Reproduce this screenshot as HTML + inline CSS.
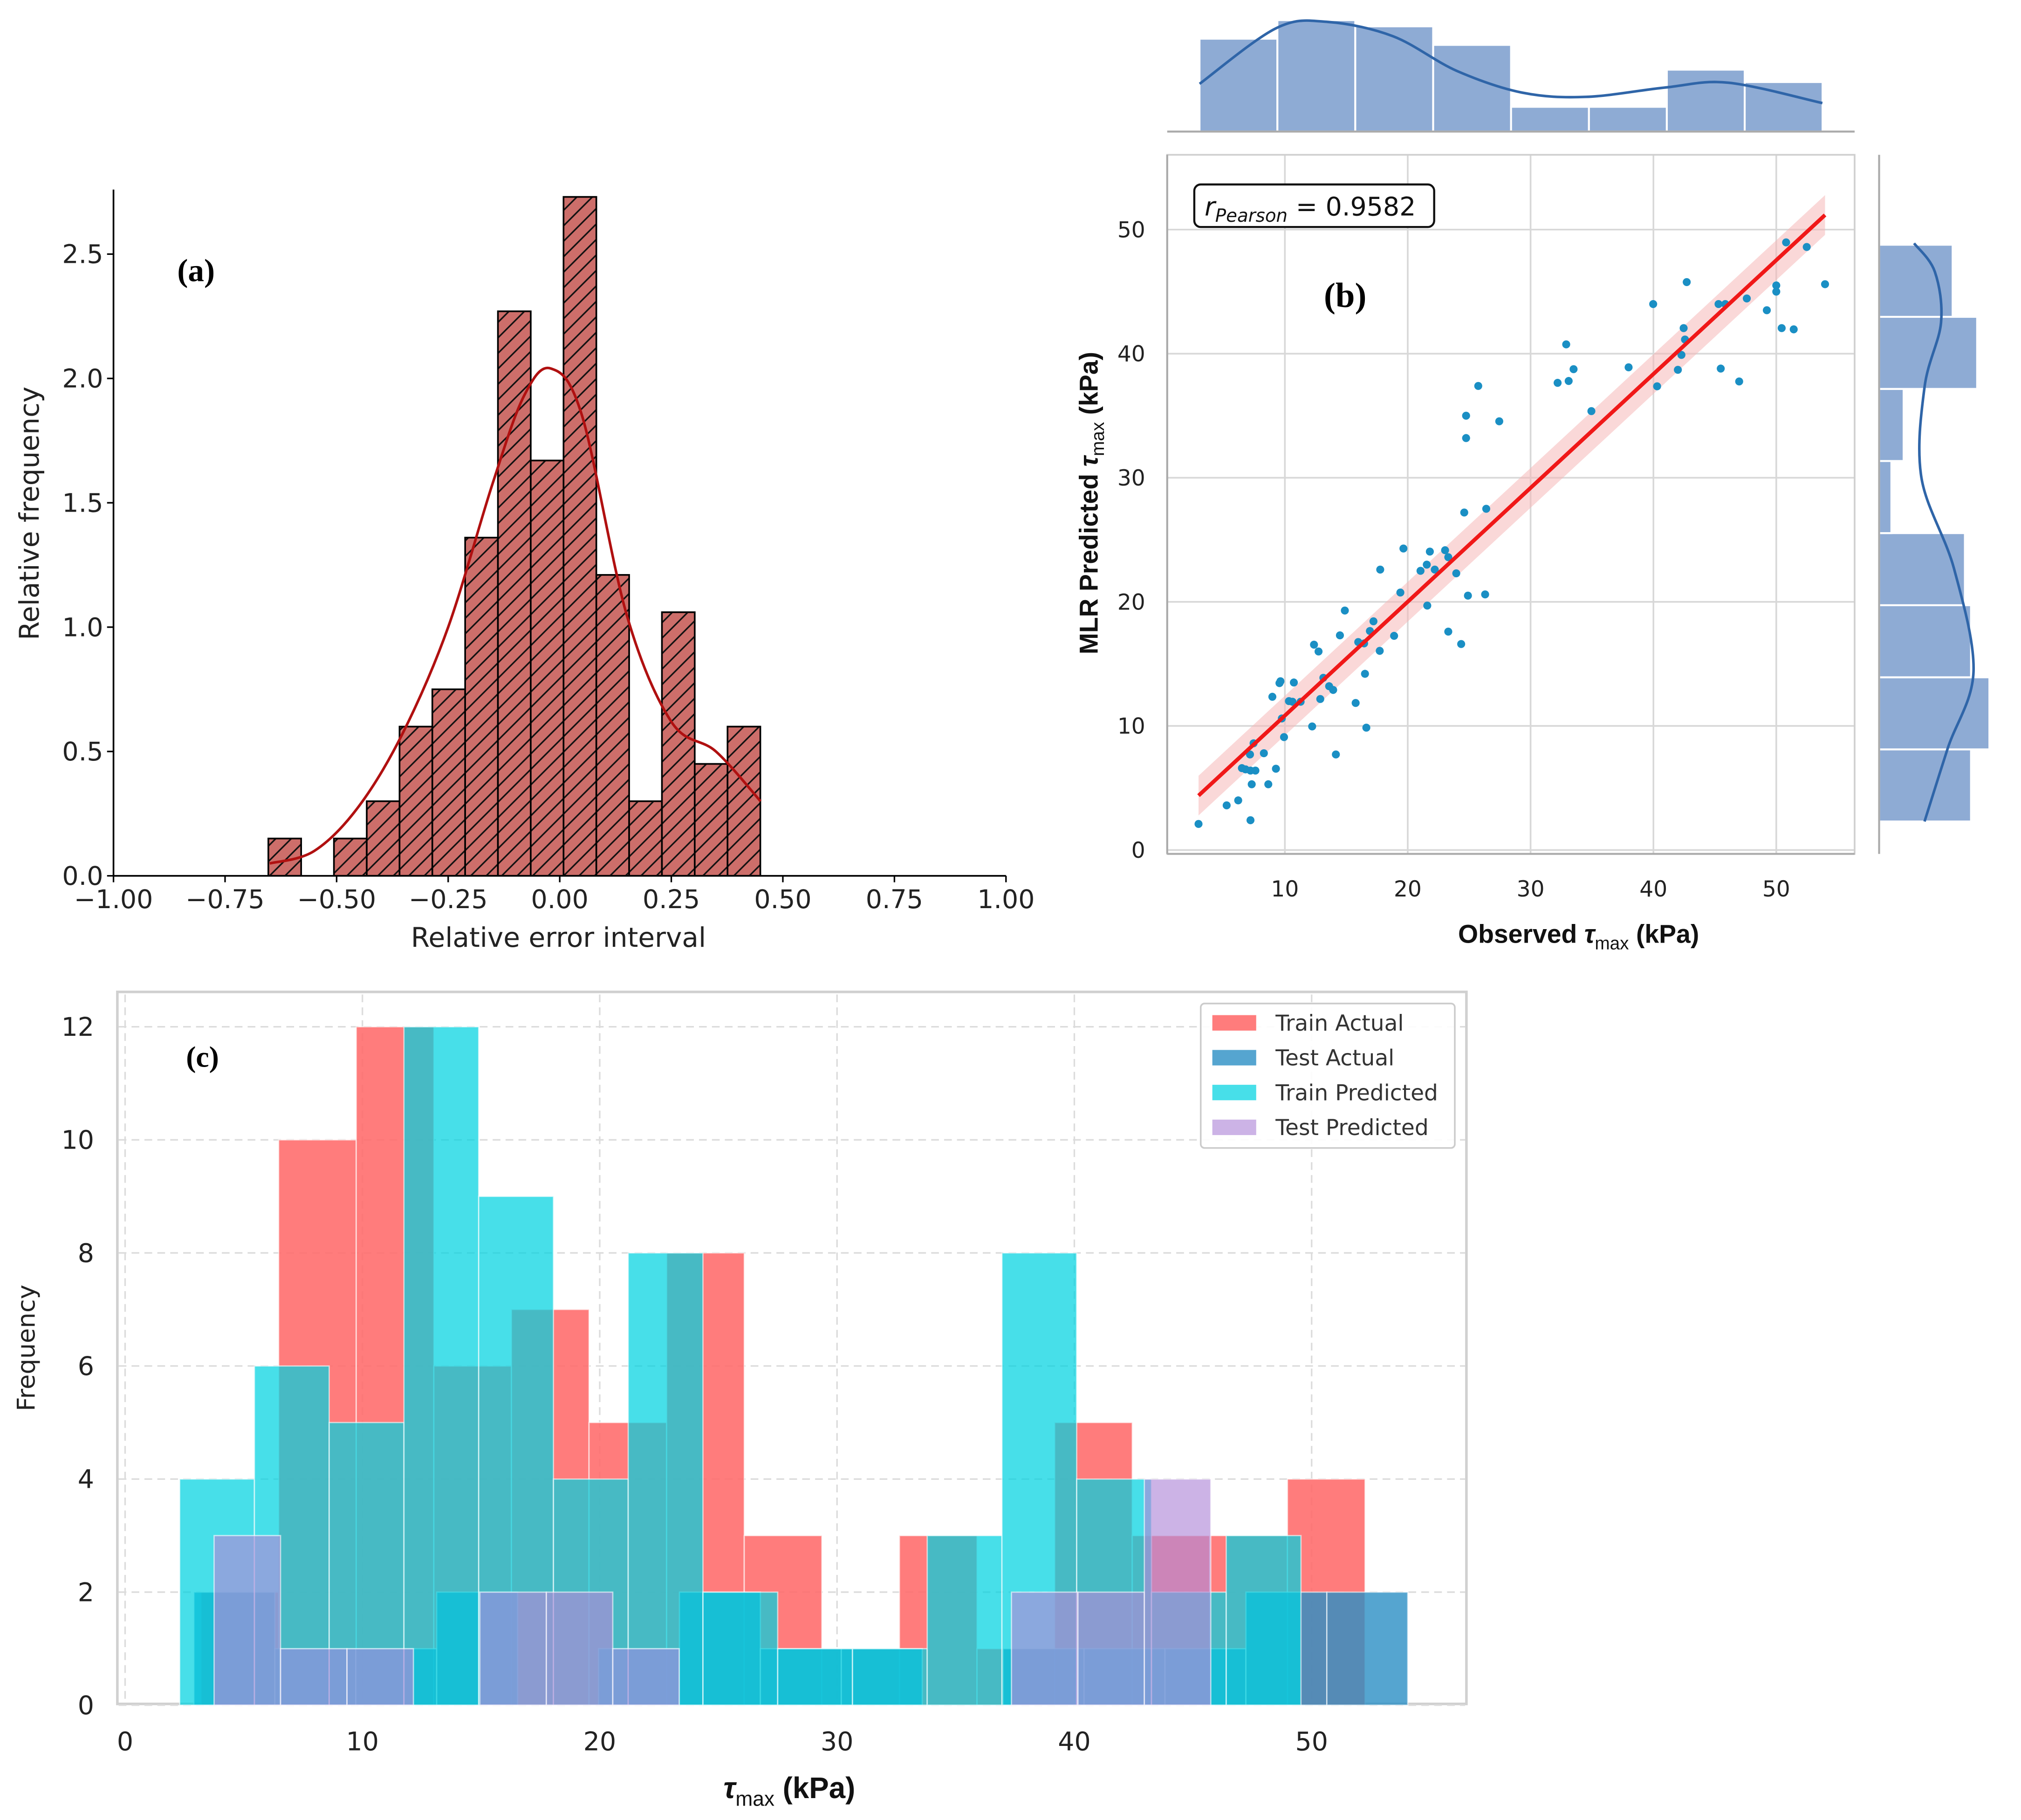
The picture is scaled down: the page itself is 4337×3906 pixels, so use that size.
<!DOCTYPE html>
<html><head><meta charset="utf-8"><style>
html,body{margin:0;padding:0;background:#fff;}
svg{display:block;}
.dv{font-family:"DejaVu Sans","Liberation Sans",sans-serif;}
.serif{font-family:"Liberation Serif",serif;font-weight:bold;}
.lsb{font-family:"Liberation Sans",sans-serif;font-weight:bold;}
</style></head><body>
<svg id="fig" xmlns="http://www.w3.org/2000/svg" width="4337" height="3906" viewBox="0 0 1567 1411" preserveAspectRatio="none">
<g id="pa"></g>
<g id="pb"></g>
<g id="pc"></g>
</svg>
<script>
// ---------- Panel (a) data ----------
const aBinStart = -0.653;
const aBinWidth = 0.0735;
const aCounts = [0.15,0,0.15,0.30,0.60,0.75,1.36,2.27,1.67,2.73,1.21,0.30,1.06,0.45,0.60];
const aKdeX = [-0.65,-0.55,-0.45,-0.35,-0.25,-0.15,-0.08,-0.02,0.05,0.15,0.25,0.35,0.45];
const aKdeY = [0.05,0.10,0.28,0.58,1.00,1.58,1.93,2.04,1.85,1.05,0.62,0.50,0.30];
const aXTicks = [-1.00,-0.75,-0.50,-0.25,0.00,0.25,0.50,0.75,1.00];
const aXTickLabels = ["\u22121.00","\u22120.75","\u22120.50","\u22120.25","0.00","0.25","0.50","0.75","1.00"];
const aYTicks = [0,0.5,1.0,1.5,2.0,2.5];
const aYTickLabels = ["0.0","0.5","1.0","1.5","2.0","2.5"];

// ---------- Panel (b) data ----------
const bObsX = [2.97,5.26,6.2,7.2,7.3,8.65,6.5,6.8,7.2,7.6,9.27,7.16,8.29,7.45,9.93,9.75,8.98,9.56,9.64,10.73,10.33,10.62,11.28,12.22,12.88,13.13,13.6,13.93,12.37,12.74,14.15,14.88,14.48,15.76,15.97,16.45,16.52,16.63,16.92,17.21,17.72,17.76,18.89,19.4,19.65,21.04,21.55,21.8,22.2,21.59,23.04,23.3,23.95,23.3,24.35,24.9,26.3,24.6,26.39,24.75,24.75,25.74,27.45,32.2,32.9,33.1,33.5,34.95,37.98,39.98,40.3,41.99,42.28,42.46,42.57,42.71,45.3,45.85,45.48,46.98,47.6,49.23,50.0,50.0,50.44,51.42,50.8,52.48,53.97];
const bPredY = [2.1,3.6,4.0,2.4,5.3,5.3,6.6,6.5,6.4,6.4,6.55,7.7,7.8,8.6,9.1,10.6,12.35,13.45,13.6,13.5,12.0,11.95,11.95,9.96,12.17,13.88,13.2,12.9,16.55,16.0,7.7,19.3,17.3,11.85,16.76,16.65,14.2,9.86,17.65,18.43,16.05,22.6,17.26,20.75,24.3,22.5,23.0,24.05,22.6,19.7,24.16,23.6,22.3,17.6,16.6,20.5,20.6,27.2,27.5,33.2,35.0,37.4,34.55,37.65,40.75,37.8,38.75,35.37,38.9,44.0,37.37,38.7,39.9,42.06,41.14,45.77,44.0,44.0,38.8,37.76,44.45,43.5,45.5,45.0,42.06,41.96,48.97,48.6,45.6];
const bFitSlope = 0.9175;
const bFitIntercept = 1.66;
const bFitRange = [2.97,53.97];
const bTopBinStart = 3.05;
const bTopBinWidth = 6.34;
const bTopCounts = [15,18,17,14,4,4,10,8];
const bTopKdeX = [3.05,9.3,13.5,18.8,24.0,29.3,34.5,40.9,46.1,53.75];
const bTopKdeY = [7.7,16.7,17.7,15.4,9.8,6.3,5.6,7.1,7.9,4.6];
const bRightBinStart = 2.3;
const bRightBinWidth = 5.81;
const bRightCounts = [15,18,15,14,2,4,16,12];
const bRightKdeY = [2.3,8.2,14.4,22.7,30.0,37.3,42.5,46.6,48.9];
const bRightKdeX = [7.4,11.2,15.4,12.2,6.9,7.4,10.1,9.1,5.7];
const bTicks = [10,20,30,40,50];
const bYTicks = [0,10,20,30,40,50];

// ---------- Panel (c) data ----------
const cTrainActStart = 3.2, cTrainActWidth = 3.27;
const cTrainActual = [2,10,12,6,7,5,8,3,1,3,1,5,3,3,4];
const cTestActStart = 2.9, cTestActWidth = 3.41;
const cTestActual = [2,1,1,2,0,1,2,1,1,0,1,1,1,2,2];
const cTrainPredStart = 2.3, cTrainPredWidth = 3.15;
const cTrainPredicted = [4,6,5,12,9,4,8,2,1,1,3,8,4,2,3];
const cTestPredStart = 3.75, cTestPredWidth = 2.8;
const cTestPredicted = [3,1,1,0,2,2,1,0,0,0,0,0,2,2,4];
const cXTicks = [0,10,20,30,40,50];
const cYTicks = [0,2,4,6,8,10,12];
const cLegendLabels = ["Train Actual","Test Actual","Train Predicted","Test Predicted"];

const NS = "http://www.w3.org/2000/svg";
function mk(parent, tag, attrs, txt){
  const e = document.createElementNS(NS, tag);
  for (const k in attrs) e.setAttribute(k, attrs[k]);
  if (txt !== undefined) e.textContent = txt;
  parent.appendChild(e);
  return e;
}
function smooth(pts){
  let d = 'M'+pts[0][0].toFixed(1)+','+pts[0][1].toFixed(1);
  for (let i=0;i<pts.length-1;i++){
    const p0 = pts[Math.max(0,i-1)], p1 = pts[i], p2 = pts[i+1], p3 = pts[Math.min(pts.length-1,i+2)];
    const c1 = [p1[0]+(p2[0]-p0[0])/6, p1[1]+(p2[1]-p0[1])/6];
    const c2 = [p2[0]-(p3[0]-p1[0])/6, p2[1]-(p3[1]-p1[1])/6];
    d += ' C'+c1.map(v=>v.toFixed(1)).join(',')+' '+c2.map(v=>v.toFixed(1)).join(',')+' '+p2.map(v=>v.toFixed(1)).join(',');
  }
  return d;
}

(function(){
  const svg = document.getElementById('fig');
  const defs = document.createElementNS(NS,'defs');
  svg.insertBefore(defs, svg.firstChild);
  const p = mk(defs,'pattern',{id:'hatch',patternUnits:'userSpaceOnUse',width:12,height:12});
  mk(p,'rect',{x:0,y:0,width:12,height:12,fill:'#cd6e6a'});
  mk(p,'path',{d:'M-3,3 L3,-3 M0,12 L12,0 M9,15 L15,9',stroke:'#111','stroke-width':1.2});
})();

// ================= Panel A =================
(function(){
  const g = document.getElementById('pa');
  const X = v => 434 + v*346;
  const Y = v => 679 - v*192.8;
  aCounts.forEach((c,i)=>{
    if (c<=0) return;
    const x0 = X(aBinStart + i*aBinWidth), x1 = X(aBinStart+(i+1)*aBinWidth);
    const r = mk(g,'rect',{x:x0,y:Y(c),width:x1-x0,height:Y(0)-Y(c),fill:'url(#hatch)',stroke:'#000','stroke-width':1.3});
    
    
  });
  const k = mk(g,'path',{d:smooth(aKdeX.map((x,i)=>[X(x),Y(aKdeY[i])])),fill:'none',stroke:'#b01010','stroke-width':2});
  
  
  mk(g,'line',{x1:88,y1:147,x2:88,y2:679,stroke:'#000','stroke-width':1.3});
  mk(g,'line',{x1:88,y1:679,x2:780,y2:679,stroke:'#000','stroke-width':1.3});
  aXTicks.forEach((t,i)=>{
    mk(g,'line',{x1:X(t),y1:679,x2:X(t),y2:684,stroke:'#000','stroke-width':1.2});
    const e = mk(g,'text',{class:'dv',x:X(t),y:704,'font-size':20,'text-anchor':'middle',fill:'#222'},aXTickLabels[i]);
    
    
  });
  aYTicks.forEach((t,i)=>{
    mk(g,'line',{x1:83,y1:Y(t),x2:88,y2:Y(t),stroke:'#000','stroke-width':1.2});
    const e = mk(g,'text',{class:'dv',x:80,y:Y(t)+7,'font-size':20,'text-anchor':'end',fill:'#222'},aYTickLabels[i]);
    
    
  });
  let t = mk(g,'text',{class:'dv',x:433,y:734,'font-size':21,'text-anchor':'middle',fill:'#222'},'Relative error interval');
   
  t = mk(g,'text',{class:'dv',x:30,y:398,'font-size':21,'text-anchor':'middle',fill:'#222',transform:'rotate(-90 30 398)'},'Relative frequency');
   
  t = mk(g,'text',{class:'serif',x:152,y:218,'font-size':25,'text-anchor':'middle'},'(a)');
   
})();

// ================= Panel B =================
(function(){
  const g = document.getElementById('pb');
  const X = v => 901 + v*9.525;
  const Y = v => 659 - v*9.62;
  bTicks.forEach(t=>mk(g,'line',{x1:X(t),y1:120,x2:X(t),y2:662,stroke:'#d8d8d8','stroke-width':1.3}));
  bYTicks.forEach(t=>mk(g,'line',{x1:905,y1:Y(t),x2:1438,y2:Y(t),stroke:'#d8d8d8','stroke-width':1.3}));
  mk(g,'rect',{x:905,y:120,width:533,height:542,fill:'none',stroke:'#cfcfcf','stroke-width':1.3});
  mk(g,'line',{x1:905,y1:120,x2:905,y2:662,stroke:'#aaa','stroke-width':1.5});
  mk(g,'line',{x1:905,y1:662,x2:1438,y2:662,stroke:'#aaa','stroke-width':1.5});
  const x0=bFitRange[0], x1=bFitRange[1];
  const band = mk(g,'polygon',{points:
    [[X(x0),Y(bFitSlope*x0+bFitIntercept+1.6)],[X(x1),Y(bFitSlope*x1+bFitIntercept+1.6)],[X(x1),Y(bFitSlope*x1+bFitIntercept-1.6)],[X(x0),Y(bFitSlope*x0+bFitIntercept-1.6)]].map(p=>p.join(',')).join(' '),
    fill:'#f6b8b8','fill-opacity':0.55});
  
  
  bObsX.forEach((x,i)=>{
    const c = mk(g,'circle',{cx:X(x),cy:Y(bPredY[i]),r:3.1,fill:'#1a8fc4'});
    
    
  });
  const fl = mk(g,'line',{x1:X(x0),y1:Y(bFitSlope*x0+bFitIntercept),x2:X(x1),y2:Y(bFitSlope*x1+bFitIntercept),stroke:'#f01818','stroke-width':3});
  
  
  bTicks.forEach(t=>{
    const e = mk(g,'text',{class:'dv',x:X(t),y:695,'font-size':17,'text-anchor':'middle',fill:'#222'},String(t));
     
  });
  bYTicks.forEach(t=>{
    const e = mk(g,'text',{class:'dv',x:888,y:Y(t)+6,'font-size':17,'text-anchor':'end',fill:'#222'},String(t));
     
  });
  const pb = mk(g,'rect',{x:926,y:143,width:186,height:33,rx:5,fill:'#fff',stroke:'#111','stroke-width':1.6});
   
  const pt = mk(g,'text',{class:'dv',x:934,y:167,'font-size':20,fill:'#111'});
   
  mk(pt,'tspan',{'font-style':'italic'},'r');
  mk(pt,'tspan',{'font-style':'italic','font-size':14,dy:5},'Pearson');
  mk(pt,'tspan',{dy:-5},' = 0.9582');
  let t = mk(g,'text',{class:'serif',x:1043,y:238,'font-size':27,'text-anchor':'middle'},'(b)');
   
  t = mk(g,'text',{class:'lsb',x:1224,y:731,'font-size':20,'text-anchor':'middle',fill:'#111'});
   
  mk(t,'tspan',{},'Observed ');
  mk(t,'tspan',{'font-style':'italic'},'τ');
  mk(t,'tspan',{'font-size':14,'font-weight':'normal',dy:5},'max');
  mk(t,'tspan',{dy:-5},' (kPa)');
  t = mk(g,'text',{class:'lsb',x:851,y:390,'font-size':20,'text-anchor':'middle',fill:'#111',transform:'rotate(-90 851 390)'});
   
  mk(t,'tspan',{},'MLR Predicted ');
  mk(t,'tspan',{'font-style':'italic'},'τ');
  mk(t,'tspan',{'font-size':14,'font-weight':'normal',dy:5},'max');
  mk(t,'tspan',{dy:-5},' (kPa)');
  const TS = 4.8;
  bTopCounts.forEach((c,i)=>{
    const a = X(bTopBinStart+i*bTopBinWidth), b = X(bTopBinStart+(i+1)*bTopBinWidth);
    const r = mk(g,'rect',{x:a,y:102-c*TS,width:b-a,height:c*TS,fill:'#8eabd4',stroke:'#fff','stroke-width':1.5});
     
  });
  mk(g,'line',{x1:905,y1:102,x2:1438,y2:102,stroke:'#aaa','stroke-width':1.5});
  let kp = mk(g,'path',{d:smooth(bTopKdeX.map((x,i)=>[X(x),102-bTopKdeY[i]*TS])),fill:'none',stroke:'#2f65a8','stroke-width':2});
   
  const RS = 4.75;
  bRightCounts.forEach((c,i)=>{
    const a = Y(bRightBinStart+(i+1)*bRightBinWidth), b = Y(bRightBinStart+i*bRightBinWidth);
    const r = mk(g,'rect',{x:1457,y:a,width:c*RS,height:b-a,fill:'#8eabd4',stroke:'#fff','stroke-width':1.5});
     
  });
  mk(g,'line',{x1:1457,y1:120,x2:1457,y2:662,stroke:'#aaa','stroke-width':1.5});
  kp = mk(g,'path',{d:smooth(bRightKdeY.map((y,i)=>[1457+bRightKdeX[i]*RS,Y(y)])),fill:'none',stroke:'#2f65a8','stroke-width':2});
   
})();

// ================= Panel C =================
(function(){
  const g = document.getElementById('pc');
  const X = v => 97 + v*18.4;
  const Y = v => 1322 - v*43.83;
  mk(g,'rect',{x:91,y:769,width:1046,height:552,fill:'#fff',stroke:'#d0d0d0','stroke-width':2});
  cXTicks.forEach(t=>mk(g,'line',{x1:X(t),y1:771,x2:X(t),y2:1320,stroke:'#dcdcdc','stroke-width':1.2,'stroke-dasharray':'6,4'}));
  cYTicks.forEach(t=>mk(g,'line',{x1:92,y1:Y(t),x2:1136,y2:Y(t),stroke:'#dcdcdc','stroke-width':1.2,'stroke-dasharray':'6,4'}));
  const series = [
    [cTrainActual,cTrainActStart,cTrainActWidth,'#ff6a6a',0.88,'train-actual-bar'],
    [cTestActual,cTestActStart,cTestActWidth,'#2a8fc4',0.8,'test-actual-bar'],
    [cTrainPredicted,cTrainPredStart,cTrainPredWidth,'#00d3e0',0.72,'train-predicted-bar'],
    [cTestPredicted,cTestPredStart,cTestPredWidth,'#b08ad8',0.65,'test-predicted-bar']
  ];
  series.forEach(s=>{
    s[0].forEach((c,i)=>{
      if (c<=0) return;
      const a = X(s[1]+i*s[2]), b = X(s[1]+(i+1)*s[2]);
      const r = mk(g,'rect',{x:a,y:Y(c),width:b-a,height:Y(0)-Y(c),fill:s[3],'fill-opacity':s[4],stroke:'#fff','stroke-opacity':0.6,'stroke-width':1});
      
      
    });
  });
  cXTicks.forEach(t=>{
    const e = mk(g,'text',{class:'dv',x:X(t),y:1357,'font-size':20,'text-anchor':'middle',fill:'#222'},String(t));
     
  });
  cYTicks.forEach(t=>{
    const e = mk(g,'text',{class:'dv',x:73,y:Y(t)+7,'font-size':20,'text-anchor':'end',fill:'#222'},String(t));
     
  });
  const lg = mk(g,'g',{});
   
  mk(lg,'rect',{x:931,y:778,width:197,height:112,rx:3,fill:'#fff','fill-opacity':0.9,stroke:'#ccc','stroke-width':1.3});
  cLegendLabels.forEach((lab,i)=>{
    const yy = 793 + i*27;
    mk(lg,'rect',{x:940,y:yy-6,width:34,height:12,fill:series[i][3],'fill-opacity':series[i][4]});
    const e = mk(lg,'text',{class:'dv',x:989,y:yy+6,'font-size':17,fill:'#333'},lab);
     
  });
  let t = mk(g,'text',{class:'serif',x:157,y:827,'font-size':23,'text-anchor':'middle'},'(c)');
   
  t = mk(g,'text',{class:'dv',x:27,y:1045,'font-size':19,'text-anchor':'middle',fill:'#222',transform:'rotate(-90 27 1045)'},'Frequency');
   
  t = mk(g,'text',{class:'lsb',x:612,y:1394,'font-size':23,'text-anchor':'middle',fill:'#111'});
   
  mk(t,'tspan',{'font-style':'italic'},'τ');
  mk(t,'tspan',{'font-size':16,'font-weight':'normal',dy:6},'max');
  mk(t,'tspan',{dy:-6},' (kPa)');
})();
</script>
</body></html>
